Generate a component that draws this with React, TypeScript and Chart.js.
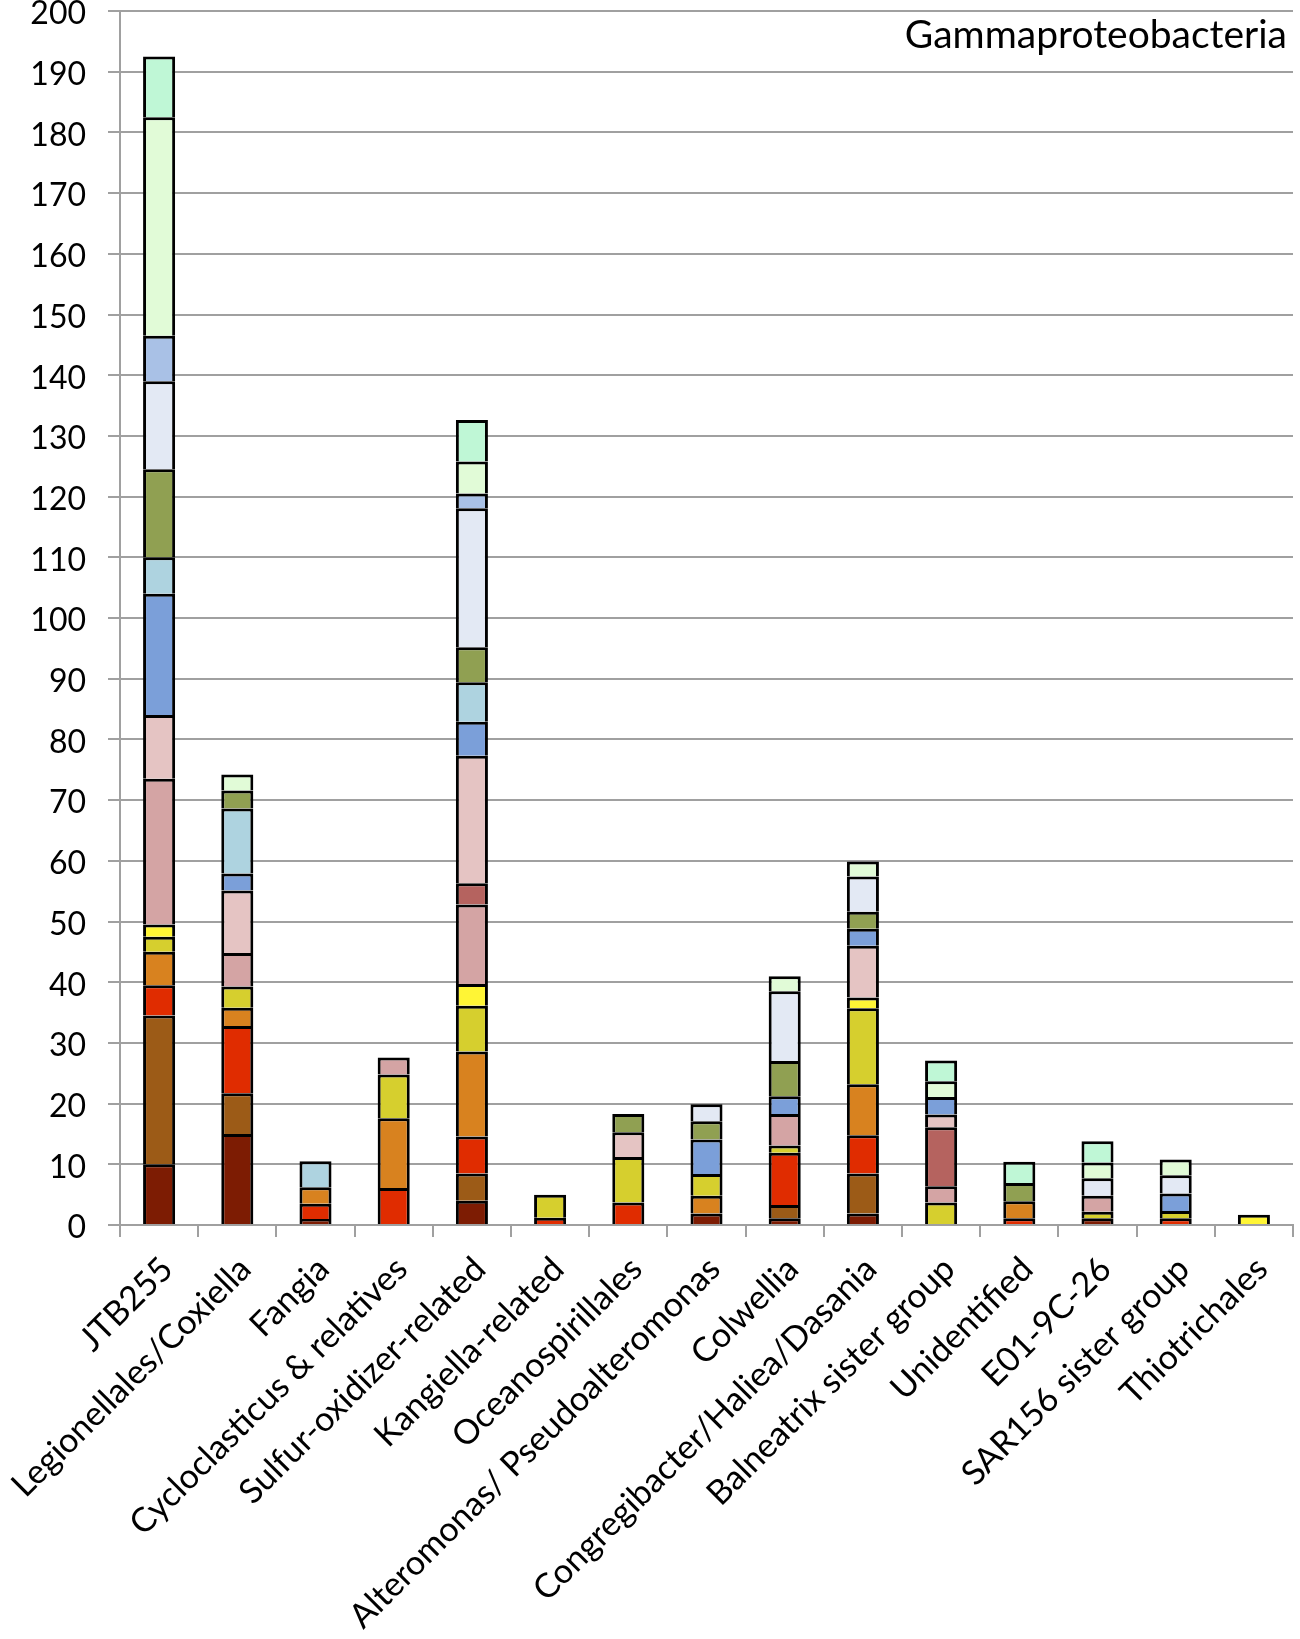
import { useEffect, useRef } from 'react'
import { Chart, registerables } from 'chart.js'

Chart.register(...registerables)

const categories = [
    'JTB255',
    'Legionellales/Coxiella',
    'Fangia',
    'Cycloclasticus & relatives',
    'Sulfur-oxidizer-related',
    'Kangiella-related',
    'Oceanospirillales',
    'Alteromonas/ Pseudoalteromonas',
    'Colwellia',
    'Congregibacter/Haliea/Dasania',
    'Balneatrix sister group',
    'Unidentified',
    'E01-9C-26',
    'SAR156 sister group',
    'Thiotrichales',
]

// stacked from the bottom up, one value per category
const maroon = [10, 15, 1, 0, 4, 0, 0, 1.9, 1.1, 1.9, 0, 0, 1.1, 0, 0]
const brown = [24.5, 6.7, 0, 0, 4.5, 0, 0, 0, 2.2, 6.6, 0, 0, 0, 0, 0]
const red = [5, 11.1, 2.5, 6.1, 6.1, 1.2, 3.7, 0, 8.6, 6.3, 0, 1.1, 0, 1.1, 0]
const orange = [5.5, 3, 2.7, 11.5, 14, 0, 0, 2.9, 0, 8.4, 0, 2.8, 0, 0, 0]
const oliveYellow = [2.5, 3.5, 0, 7.2, 7.5, 3.8, 7.5, 3.6, 1.2, 12.5, 3.7, 0, 1.1, 1.2, 0]
const yellow = [2, 0, 0, 0, 3.6, 0, 0, 0, 0, 1.8, 0, 0, 0, 0, 1.7]
const dustyPink = [24, 5.5, 0, 2.8, 13.1, 0, 0, 0, 5.2, 0, 2.7, 0, 2.6, 0, 0]
const darkRose = [0, 0, 0, 0, 3.5, 0, 0, 0, 0, 0, 9.7, 0, 0, 0, 0]
const lightPink = [10.5, 10.3, 0, 0, 21, 0, 4.1, 0, 0, 8.5, 2.1, 0, 0, 0, 0]
const blue = [20, 2.8, 0, 0, 5.6, 0, 0, 5.7, 2.9, 2.8, 2.9, 0, 0, 2.9, 0]
const lightBlue = [6, 10.7, 4.3, 0, 6.5, 0, 0, 0, 0, 0, 0, 0, 0, 0, 0]
const olive = [14.5, 3, 0, 0, 5.8, 0, 3, 3, 5.8, 2.8, 0, 3, 0, 0, 0]
const lavender = [14.5, 0, 0, 0, 22.9, 0, 0, 2.8, 11.5, 5.8, 0, 0, 2.9, 3, 0]
const paleBlue = [7.5, 0, 0, 0, 2.4, 0, 0, 0, 0, 0, 0, 0, 0, 0, 0]
const lightGreen = [36, 2.6, 0, 0, 5.3, 0, 0, 0, 2.5, 2.5, 2.6, 0, 2.6, 2.6, 0]
const mint = [10, 0, 0, 0, 6.8, 0, 0, 0, 0, 0, 3.4, 3.5, 3.5, 0, 0]

const yTicks = [0, 200, 10] // min, max, step

const segments = [
    { label: 'maroon', color: '#7d1c03', values: maroon },
    { label: 'brown', color: '#9c5b17', values: brown },
    { label: 'red', color: '#e02c00', values: red },
    { label: 'orange', color: '#d8821f', values: orange },
    { label: 'olive yellow', color: '#d6cf2e', values: oliveYellow },
    { label: 'yellow', color: '#fff535', values: yellow },
    { label: 'dusty pink', color: '#d4a4a4', values: dustyPink },
    { label: 'dark rose', color: '#b5635f', values: darkRose },
    { label: 'light pink', color: '#e5c4c3', values: lightPink },
    { label: 'blue', color: '#7b9fd9', values: blue },
    { label: 'light blue', color: '#aed3e0', values: lightBlue },
    { label: 'olive', color: '#90a052', values: olive },
    { label: 'lavender', color: '#e3e9f4', values: lavender },
    { label: 'pale blue', color: '#a9c1e6', values: paleBlue },
    { label: 'light green', color: '#e1fbd7', values: lightGreen },
    { label: 'mint', color: '#bff7d6', values: mint },
]

const FONT = 'Lato, "Noto Sans", sans-serif'
const GRID = '#a0a0a0'

const cornerTitle = {
    id: 'cornerTitle',
    afterDraw(chart: Chart) {
        const { ctx, chartArea } = chart
        ctx.save()
        ctx.font = `39px ${FONT}`
        ctx.fillStyle = '#000'
        ctx.textAlign = 'right'
        ctx.textBaseline = 'alphabetic'
        ctx.fillText('Gammaproteobacteria', chartArea.right - 6, chartArea.top + 37)
        ctx.restore()
    },
}

export default function App() {
    const canvasRef = useRef<HTMLCanvasElement | null>(null)
    const chartRef = useRef<Chart | null>(null)

    useEffect(() => {
        document.body.style.margin = '0'
        if (!canvasRef.current) return
        const ctx = canvasRef.current.getContext('2d')!

        if (chartRef.current) {
            chartRef.current.destroy()
            chartRef.current = null
        }

        chartRef.current = new Chart(ctx, {
            type: 'bar',
            data: {
                labels: categories,
                datasets: segments.map(s => ({
                    label: s.label,
                    data: s.values.map(v => (v > 0 ? v : null)),
                    backgroundColor: s.color,
                    borderColor: '#000',
                    borderWidth: 3,
                    barPercentage: 0.41,
                    categoryPercentage: 1,
                })),
            },
            plugins: [cornerTitle],
            options: {
                animation: false,
                responsive: true,
                maintainAspectRatio: false,
                layout: { padding: { top: 11, right: 7, left: 0, bottom: 0 } },
                plugins: {
                    legend: { display: false },
                    tooltip: { enabled: false },
                },
                scales: {
                    x: {
                        stacked: true,
                        afterFit: (scale: any) => {
                            scale.height = 414
                            scale.paddingLeft = 0
                            scale.paddingRight = 0
                        },
                        grid: {
                            offset: true,
                            drawOnChartArea: false,
                            drawTicks: true,
                            tickLength: 12,
                            color: GRID,
                            lineWidth: 2,
                        },
                        border: { color: GRID, width: 2 },
                        ticks: {
                            autoSkip: false,
                            minRotation: 45,
                            maxRotation: 45,
                            padding: 12,
                            labelOffset: 8,
                            color: '#000',
                            font: { family: FONT, size: 34 },
                        },
                    },
                    y: {
                        stacked: true,
                        min: yTicks[0],
                        max: yTicks[1],
                        afterFit: (scale: any) => {
                            scale.width = 120
                            scale.paddingTop = 0
                            scale.paddingBottom = 0
                        },
                        grid: {
                            color: GRID,
                            lineWidth: 2,
                            tickLength: 12,
                        },
                        border: { color: GRID, width: 2 },
                        ticks: {
                            stepSize: yTicks[2],
                            padding: 22,
                            labelOffset: 3,
                            color: '#000',
                            font: { family: FONT, size: 32 },
                        },
                    },
                },
            },
        })

        return () => chartRef.current?.destroy()
    }, [])

    return (
        <div style={{ width: 1300, height: 1639, position: 'relative' }}>
            <canvas ref={canvasRef} />
        </div>
    )
}
